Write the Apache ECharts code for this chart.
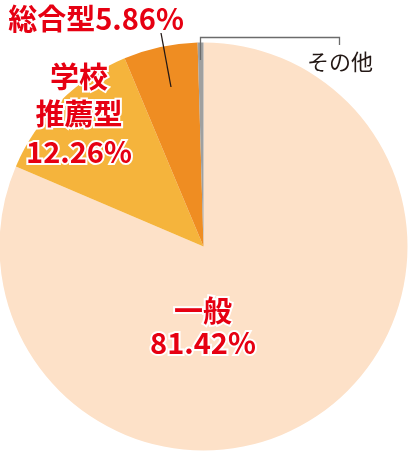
<!DOCTYPE html>
<html><head><meta charset="utf-8">
<script src="https://cdn.jsdelivr.net/npm/echarts@6/dist/echarts.min.js"></script>
<style>html,body{margin:0;padding:0;background:#fff}#c{width:408px;height:451px}</style>
</head><body><div id="c"></div>
<script>
const categories = ['一般', '学校推薦型', '総合型', 'その他'];
const values = [81.42, 12.26, 5.86, 0.46];
const colors = ['#FDE1C8', '#F5B43C', '#EF8D22', '#9FA0A0'];
const labelTexts = ['一般\n81.42%', '学校\n推薦型\n12.26%', '総合型5.86%', 'その他'];

const chart = echarts.init(document.getElementById('c'));
const font = '"Noto Sans CJK JP", "Noto Sans", sans-serif';
const redFont = 'bold 29px ' + font;
chart.setOption({
  animation: false,
  series: [{
    type: 'pie', center: [203.5, 246.5], radius: 204, startAngle: 90, clockwise: true,
    label: { show: false }, labelLine: { show: false }, silent: true,
    itemStyle: { borderWidth: 0 },
    data: categories.map((c, i) => ({ name: c, value: values[i], itemStyle: { color: colors[i] } }))
  }],
  graphic: [
    { type: 'polyline', z: 50, shape: { points: [[200.5, 60], [200.5, 37.5], [339.5, 37.5], [339.5, 45]] }, style: { stroke: '#6B6B6B', lineWidth: 1.3, fill: null } },
    { type: 'line', z: 50, shape: { x1: 161, y1: 33, x2: 171, y2: 87 }, style: { stroke: '#231815', lineWidth: 1.3 } },
    { type: 'text', z: 100, x: 340, y: 62, style: { text: labelTexts[3], font: '22px ' + font, fill: '#231815', textAlign: 'center', textVerticalAlign: 'middle' } },
    { type: 'text', z: 100, x: 96, y: 19, style: { text: labelTexts[2], font: redFont, fill: '#E60012', stroke: '#fff', lineWidth: 4, textAlign: 'center', textVerticalAlign: 'middle' } },
    { type: 'text', z: 100, x: 79, y: 114, style: { text: labelTexts[1], font: redFont, fill: '#E60012', stroke: '#fff', lineWidth: 4, textAlign: 'center', textVerticalAlign: 'middle', lineHeight: 37.5 } },
    { type: 'text', z: 100, x: 203, y: 327, style: { text: labelTexts[0], font: redFont, fill: '#E60012', stroke: '#fff', lineWidth: 4, textAlign: 'center', textVerticalAlign: 'middle', lineHeight: 32 } }
  ]
});
</script></body></html>
